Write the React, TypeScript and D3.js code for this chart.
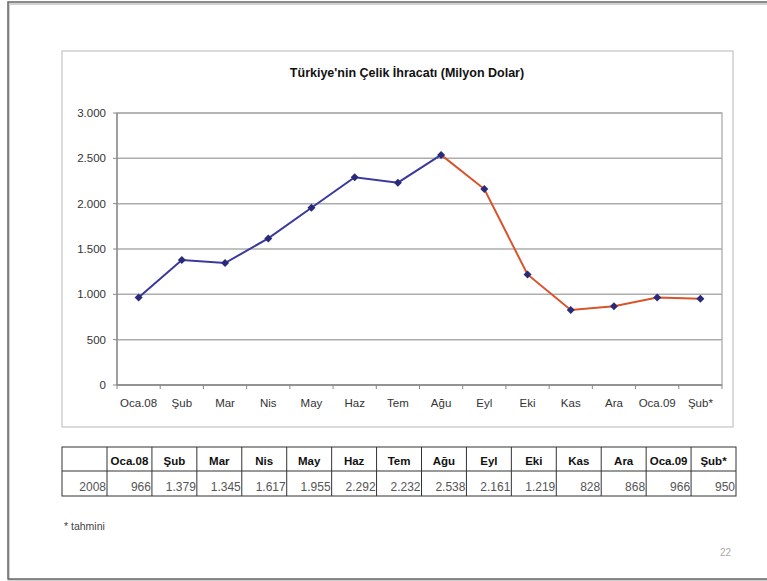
import React from "react";
import * as d3 from "d3";

const categories = ["Oca.08", "Şub", "Mar", "Nis", "May", "Haz", "Tem", "Ağu", "Eyl", "Eki", "Kas", "Ara", "Oca.09", "Şub*"];
const values = [966, 1379, 1345, 1617, 1955, 2292, 2232, 2538, 2161, 1219, 828, 868, 966, 950];
const tableValues = ["966", "1.379", "1.345", "1.617", "1.955", "2.292", "2.232", "2.538", "2.161", "1.219", "828", "868", "966", "950"];
const yTicks = [0, 500, 1000, 1500, 2000, 2500, 3000];
const splitIndex = 7;
const title = "Türkiye'nin Çelik İhracatı (Milyon Dolar)";
const rowLabel = "2008";

const W = 767, H = 581;
const font = "'Liberation Sans', Arial, sans-serif";

export default function App() {
  const plot = { left: 117, right: 722, top: 113, bottom: 385 };
  const x = d3.scaleBand<string>().domain(categories).range([plot.left, plot.right]);
  const y = d3.scaleLinear().domain([0, 3000]).range([plot.bottom, plot.top]);
  const cx = (i: number) => (x(categories[i]) as number) + x.bandwidth() / 2;
  const pts = values.map((v, i) => [cx(i), y(v)] as [number, number]);
  const lineGen = d3.line<[number, number]>().x(d => d[0]).y(d => d[1]);
  const bluePath = lineGen(pts.slice(0, splitIndex + 1)) || "";
  const redPath = lineGen(pts.slice(splitIndex)) || "";

  const fmt = (v: number) => d3.format(",")(v).replace(/,/g, ".");

  const tLeft = 62, tFirst = 107, tRight = 736, tTop = 447, tMid = 471, tBot = 496;
  const colX = d3.scaleBand<string>().domain(categories).range([tFirst, tRight]);

  return (
    <svg width={W} height={H} style={{ position: "absolute", left: 0, top: 0, background: "#fff" }} fontFamily={font}>
      {/* slide frame */}
      <rect x={9} y={4} width={800} height={576} fill="none" stroke="#d0d0d0" strokeWidth={2} />
      <rect x={8} y={2} width={800} height={577} fill="none" stroke="#666" strokeWidth={1.5} />

      {/* chart area */}
      <rect x={62} y={51} width={671} height={376} fill="#fff" stroke="#c4c4c4" strokeWidth={1.2} />
      <text x={407} y={77} textAnchor="middle" fontSize={12.5} fontWeight="bold" fill="#111">{title}</text>

      {/* plot area */}
      {yTicks.map(t => (
        <line key={"g" + t} x1={plot.left} x2={plot.right} y1={y(t)} y2={y(t)} stroke="#adadad" strokeWidth={1.5} />
      ))}
      <rect x={plot.left} y={plot.top} width={plot.right - plot.left} height={plot.bottom - plot.top} fill="none" stroke="#adadad" strokeWidth={1.3} />
      <line x1={plot.left} x2={plot.left} y1={plot.top} y2={plot.bottom} stroke="#888" strokeWidth={1.3} />
      <line x1={plot.left} x2={plot.right} y1={plot.bottom} y2={plot.bottom} stroke="#888" strokeWidth={1.3} />
      {yTicks.map(t => (
        <g key={"yt" + t}>
          <line x1={plot.left - 4} x2={plot.left} y1={y(t)} y2={y(t)} stroke="#888" />
          <text x={plot.left - 11} y={y(t) + 4} textAnchor="end" fontSize={11.5} fill="#333">{fmt(t)}</text>
        </g>
      ))}
      {categories.map((c, i) => (
        <g key={"xt" + c}>
          <line x1={x(c) as number} x2={x(c) as number} y1={plot.bottom} y2={plot.bottom + 4} stroke="#888" />
          <text x={cx(i)} y={plot.bottom + 22} textAnchor="middle" fontSize={11.5} fill="#333">{c}</text>
        </g>
      ))}
      <line x1={plot.right} x2={plot.right} y1={plot.bottom} y2={plot.bottom + 4} stroke="#888" />

      <path d={bluePath} fill="none" stroke="#3a3a9c" strokeWidth={2} />
      <path d={redPath} fill="none" stroke="#d9532b" strokeWidth={2} />
      {pts.map((p, i) => (
        <path key={"m" + i} d={`M${p[0]},${p[1] - 4}L${p[0] + 4},${p[1]}L${p[0]},${p[1] + 4}L${p[0] - 4},${p[1]}Z`} fill="#2a2a7a" />
      ))}

      {/* data table */}
      <rect x={tLeft} y={tTop} width={tRight - tLeft} height={tBot - tTop} fill="none" stroke="#333" strokeWidth={1} />
      <line x1={tLeft} x2={tRight} y1={tMid} y2={tMid} stroke="#333" />
      <line x1={tFirst} x2={tFirst} y1={tTop} y2={tBot} stroke="#333" />
      {categories.map((c, i) => {
        const x0 = colX(c) as number;
        const bw = colX.bandwidth();
        return (
          <g key={"tc" + c}>
            {i > 0 && <line x1={x0} x2={x0} y1={tTop} y2={tBot} stroke="#333" />}
            <text x={x0 + bw / 2} y={tMid - 6} textAnchor="middle" fontSize={11.5} fontWeight="bold" fill="#111">{c}</text>
            <text x={x0 + bw - 1} y={tBot - 5} textAnchor="end" fontSize={12} fill="#555">{tableValues[i]}</text>
          </g>
        );
      })}
      <text x={tFirst - 1} y={tBot - 5} textAnchor="end" fontSize={12} fill="#555">{rowLabel}</text>

      <text x={64} y={530} fontSize={10.5} fill="#444">* tahmini</text>
      <text x={720} y={556} fontSize={10} fill="#aaa">22</text>
    </svg>
  );
}
